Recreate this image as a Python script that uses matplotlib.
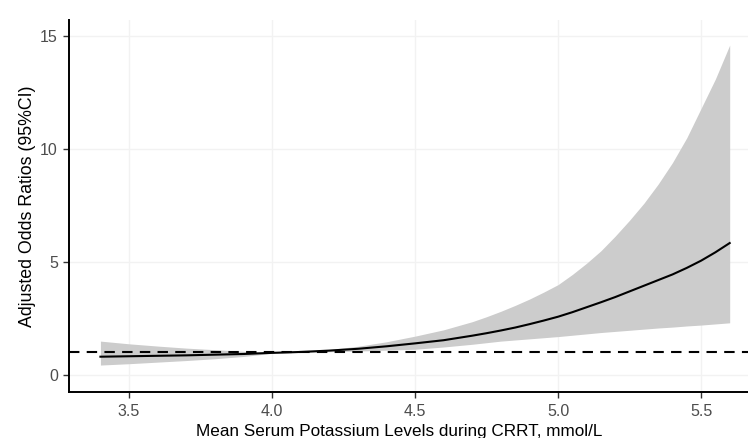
import matplotlib
matplotlib.use("Agg")
import matplotlib.pyplot as plt

# potassium level (mmol/L) and adjusted OR with 95% CI
potassium = [3.4, 3.5, 3.6, 3.7, 3.8, 3.9, 4.0, 4.1, 4.2, 4.3, 4.4, 4.5,
             4.6, 4.7, 4.75, 4.8, 4.85, 4.9, 4.95, 5.0, 5.05, 5.1, 5.15,
             5.2, 5.25, 5.3, 5.35, 5.4, 5.45, 5.5, 5.55, 5.6]
odds_ratio = [0.81, 0.83, 0.85, 0.87, 0.90, 0.93, 0.98, 1.02, 1.08, 1.16, 1.27, 1.40,
              1.54, 1.74, 1.85, 1.97, 2.10, 2.25, 2.41, 2.58, 2.78, 3.00, 3.22,
              3.45, 3.70, 3.95, 4.20, 4.45, 4.74, 5.06, 5.43, 5.84]
ci_upper = [1.50, 1.38, 1.28, 1.19, 1.12, 1.05, 1.00, 1.05, 1.13, 1.27, 1.47, 1.72,
            2.00, 2.36, 2.58, 2.82, 3.08, 3.36, 3.67, 4.00, 4.45, 4.95, 5.50,
            6.15, 6.85, 7.60, 8.45, 9.40, 10.5, 11.8, 13.1, 14.6]
ci_lower = [0.44, 0.50, 0.57, 0.64, 0.72, 0.82, 0.96, 1.00, 1.03, 1.06, 1.10, 1.14,
            1.24, 1.36, 1.43, 1.50, 1.55, 1.60, 1.65, 1.70, 1.76, 1.82, 1.88,
            1.93, 1.98, 2.03, 2.08, 2.12, 2.17, 2.21, 2.26, 2.31]

xticks = [3.5, 4.0, 4.5, 5.0, 5.5]
yticks = [0, 5, 10, 15]

plt.rcParams["font.family"] = ["Liberation Sans", "DejaVu Sans"]

fig = plt.figure(figsize=(7.48, 4.38), dpi=100)
ax = fig.add_axes([0.0922, 0.1039, 0.9078, 0.8504])

ax.fill_between(potassium, ci_lower, ci_upper, color="#cccccc", lw=0, zorder=2)
ax.plot(potassium, odds_ratio, color="black", lw=1.5, zorder=3)
ax.axhline(1, color="black", lw=1.5, ls=(0, (5, 3.5)), zorder=4)

ax.set_xlim(3.29, 5.664)
ax.set_ylim(-0.774, 15.71)
ax.set_xticks(xticks)
ax.set_xticklabels([f"{t:.1f}" for t in xticks])
ax.set_yticks(yticks)

ax.grid(True, color="#f2f2f2", lw=1.0, zorder=0)
ax.set_axisbelow(True)
for s in ["top", "right"]:
    ax.spines[s].set_visible(False)
for s in ["left", "bottom"]:
    ax.spines[s].set_linewidth(1.4)
    ax.spines[s].set_color("black")

ax.tick_params(axis="both", colors="#333333", labelcolor="#4d4d4d",
               labelsize=11.5, length=4, width=1.0, pad=4)

ax.set_xlabel("Mean Serum Potassium Levels during CRRT, mmol/L",
              fontsize=12.3, color="black")
ax.xaxis.set_label_coords(0.486, -0.085)
ax.set_ylabel("Adjusted Odds Ratios (95%CI)", fontsize=12.8, color="black")
ax.yaxis.set_label_coords(-0.049, 0.5)

fig.savefig("out.png", dpi=100)
